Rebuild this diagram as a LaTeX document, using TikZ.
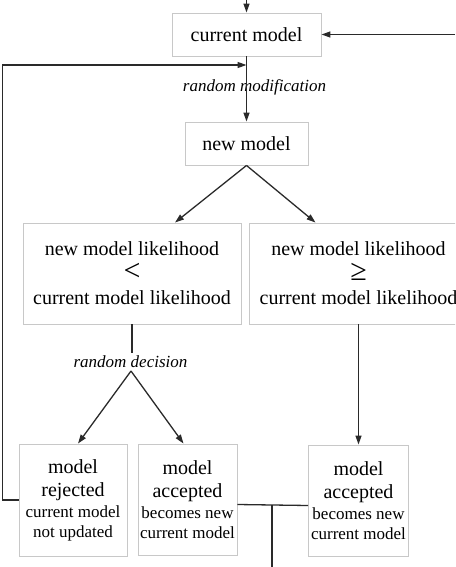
\documentclass[tikz,border=0pt]{standalone}
\usepackage{fontspec}
\setmainfont{Liberation Serif}
\usetikzlibrary{arrows.meta,calc}
\definecolor{boxgray}{HTML}{C8C8C8}
\definecolor{linegray}{HTML}{2A2A2A}
\newcommand{\bigsym}[1]{{\fontsize{30}{24.5}\selectfont #1}}
\begin{document}
\begin{tikzpicture}[x=1pt,y=-1pt,
  box/.style={draw=boxgray, line width=0.9pt, inner sep=0pt, align=center,
    font=\fontsize{20}{24.5}\selectfont},
  smallbox/.style={draw=boxgray, line width=0.9pt, inner sep=0pt, align=center,
    font=\fontsize{17}{20}\selectfont},
  lbl/.style={inner sep=1pt, font=\fontsize{17}{20}\selectfont\itshape},
  ln/.style={draw=linegray, line width=1.3pt},
  arr/.style={ln, -{Triangle[length=9pt,width=6pt]}}]
\useasboundingbox (0,0) rectangle (455,567);
\clip (0,0) rectangle (455,567);

\node[box, minimum width=149pt, minimum height=43pt] (cur) at (246.5,34.5) {current model};
\node[box, minimum width=123pt, minimum height=43pt] (new) at (246.5,143.5) {new model};
\node[box, minimum width=218pt, minimum height=101pt] (lt) at (132,273.5)
  {new model likelihood\\\bigsym{<}\\current model likelihood};
\node[box, minimum width=218pt, minimum height=101pt] (ge) at (358.5,273.5)
  {new model likelihood\\\bigsym{≥}\\current model likelihood};
\node[smallbox, minimum width=108pt, minimum height=112pt] (rej) at (73,500)
  {{\fontsize{20}{23}\selectfont model}\\[3pt]{\fontsize{20}{23}\selectfont rejected}\\[1pt]current model\\not updated};
\node[smallbox, minimum width=99pt, minimum height=111pt] (acc1) at (187.5,499.5)
  {{\fontsize{20}{23}\selectfont model}\\[3pt]{\fontsize{20}{23}\selectfont accepted}\\[1pt]becomes new\\current model};
\node[smallbox, minimum width=100pt, minimum height=111pt] (acc2) at (358.5,500.5)
  {{\fontsize{20}{23}\selectfont model}\\[3pt]{\fontsize{20}{23}\selectfont accepted}\\[1pt]becomes new\\current model};

\node[lbl] (rmod) at (254.5,87) {random modification};
\node[lbl] (rdec) at (130.5,362) {random decision};

\coordinate (topin) at (246.5,0);
\coordinate (rightin) at (455,34.5);
\coordinate (fb) at (246.5,65);
\coordinate (decin) at (132,353);
\coordinate (decout) at (131,371);
\coordinate (join) at (272,505);
\coordinate (out) at (272,567);

\draw[arr] (topin) -- (cur.north);
\draw[arr] (rightin) -- (cur.east);
\draw[arr] (cur.south) -- (new.north);
\draw[arr] (new.south) -- ([xshift=43pt]lt.north);
\draw[arr] (new.south) -- ([xshift=-43pt]ge.north);
\draw[ln] (lt.south) -- (decin);
\draw[arr] (decout) -- ([xshift=5pt]rej.north);
\draw[arr] (decout) -- ([xshift=-4pt]acc1.north);
\draw[arr] (ge.south) -- (acc2.north);
\draw[arr] (rej.west) -- ++(-16,0) |- (fb);
\draw[ln] ([yshift=-5pt]acc1.east) -- ([yshift=-5pt]acc2.west);
\draw[ln] (join) -- (out);
\end{tikzpicture}
\end{document}
